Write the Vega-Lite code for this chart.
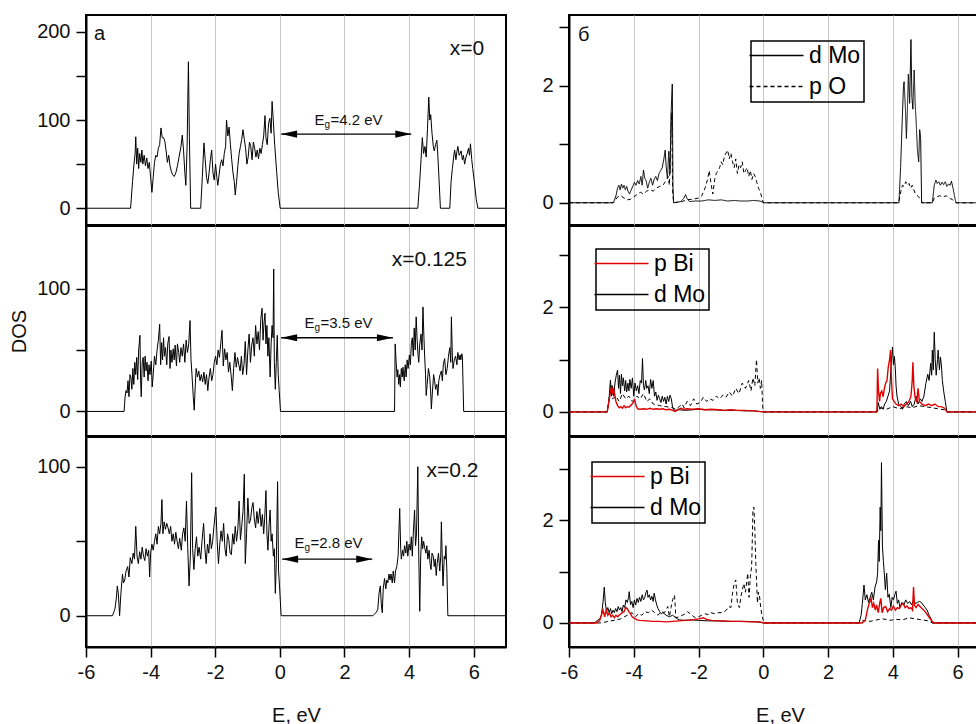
{
"$schema":"https://vega.github.io/schema/vega-lite/v6.json",
"padding":{"left":8,"top":14,"right":0,"bottom":0},
"background":"white",
"datasets":{
"L0":[{"E":-6,"v":0},{"E":-4.62,"v":0},{"E":-4.56,"v":30},{"E":-4.52,"v":48},{"E":-4.48,"v":62},{"E":-4.46,"v":81},{"E":-4.43,"v":50},{"E":-4.4,"v":68},{"E":-4.37,"v":45},{"E":-4.34,"v":62},{"E":-4.3,"v":52},{"E":-4.27,"v":66},{"E":-4.24,"v":50},{"E":-4.2,"v":60},{"E":-4.16,"v":48},{"E":-4.12,"v":57},{"E":-4.08,"v":45},{"E":-4.04,"v":52},{"E":-4.0,"v":35},{"E":-3.96,"v":18},{"E":-3.92,"v":35},{"E":-3.88,"v":52},{"E":-3.84,"v":60},{"E":-3.8,"v":58},{"E":-3.76,"v":68},{"E":-3.72,"v":72},{"E":-3.68,"v":91},{"E":-3.64,"v":80},{"E":-3.6,"v":80},{"E":-3.56,"v":76},{"E":-3.52,"v":65},{"E":-3.48,"v":52},{"E":-3.44,"v":60},{"E":-3.4,"v":48},{"E":-3.36,"v":42},{"E":-3.32,"v":38},{"E":-3.27,"v":36},{"E":-3.22,"v":40},{"E":-3.17,"v":48},{"E":-3.12,"v":58},{"E":-3.06,"v":70},{"E":-3.02,"v":83},{"E":-2.98,"v":65},{"E":-2.94,"v":40},{"E":-2.91,"v":26},{"E":-2.87,"v":70},{"E":-2.83,"v":166},{"E":-2.8,"v":80},{"E":-2.76,"v":0},{"E":-2.45,"v":0},{"E":-2.4,"v":35},{"E":-2.35,"v":74},{"E":-2.31,"v":55},{"E":-2.27,"v":35},{"E":-2.23,"v":28},{"E":-2.19,"v":40},{"E":-2.15,"v":55},{"E":-2.11,"v":66},{"E":-2.07,"v":40},{"E":-2.03,"v":32},{"E":-1.99,"v":50},{"E":-1.95,"v":35},{"E":-1.92,"v":26},{"E":-1.88,"v":38},{"E":-1.84,"v":50},{"E":-1.8,"v":55},{"E":-1.76,"v":48},{"E":-1.72,"v":62},{"E":-1.68,"v":70},{"E":-1.65,"v":100},{"E":-1.61,"v":82},{"E":-1.57,"v":92},{"E":-1.53,"v":72},{"E":-1.49,"v":55},{"E":-1.45,"v":40},{"E":-1.41,"v":30},{"E":-1.38,"v":15},{"E":-1.34,"v":30},{"E":-1.3,"v":48},{"E":-1.26,"v":62},{"E":-1.22,"v":70},{"E":-1.18,"v":78},{"E":-1.14,"v":89},{"E":-1.1,"v":78},{"E":-1.06,"v":68},{"E":-1.02,"v":50},{"E":-0.98,"v":58},{"E":-0.94,"v":75},{"E":-0.9,"v":70},{"E":-0.86,"v":55},{"E":-0.82,"v":75},{"E":-0.78,"v":68},{"E":-0.74,"v":58},{"E":-0.7,"v":66},{"E":-0.66,"v":56},{"E":-0.62,"v":68},{"E":-0.58,"v":62},{"E":-0.54,"v":72},{"E":-0.5,"v":82},{"E":-0.46,"v":105},{"E":-0.43,"v":80},{"E":-0.39,"v":72},{"E":-0.35,"v":96},{"E":-0.31,"v":102},{"E":-0.27,"v":85},{"E":-0.24,"v":121},{"E":-0.2,"v":98},{"E":-0.16,"v":72},{"E":-0.1,"v":42},{"E":-0.05,"v":18},{"E":0.01,"v":0},{"E":4.27,"v":0},{"E":4.32,"v":25},{"E":4.37,"v":55},{"E":4.41,"v":80},{"E":4.45,"v":62},{"E":4.49,"v":70},{"E":4.53,"v":58},{"E":4.57,"v":90},{"E":4.61,"v":126},{"E":4.64,"v":100},{"E":4.67,"v":106},{"E":4.71,"v":85},{"E":4.75,"v":70},{"E":4.78,"v":65},{"E":4.82,"v":72},{"E":4.86,"v":77},{"E":4.89,"v":60},{"E":4.92,"v":38},{"E":4.97,"v":0},{"E":5.26,"v":0},{"E":5.3,"v":30},{"E":5.34,"v":45},{"E":5.38,"v":58},{"E":5.41,"v":66},{"E":5.45,"v":55},{"E":5.48,"v":64},{"E":5.51,"v":70},{"E":5.55,"v":60},{"E":5.58,"v":62},{"E":5.61,"v":65},{"E":5.65,"v":55},{"E":5.68,"v":60},{"E":5.72,"v":50},{"E":5.76,"v":58},{"E":5.8,"v":62},{"E":5.84,"v":68},{"E":5.87,"v":60},{"E":5.9,"v":73},{"E":5.94,"v":55},{"E":5.97,"v":45},{"E":6.02,"v":30},{"E":6.08,"v":10},{"E":6.13,"v":0},{"E":7,"v":0}],
"L1":[{"E":-6,"v":0},{"E":-4.82,"v":0},{"E":-4.79,"v":12},{"E":-4.76,"v":17},{"E":-4.73,"v":15},{"E":-4.7,"v":25},{"E":-4.67,"v":12},{"E":-4.64,"v":30},{"E":-4.61,"v":28},{"E":-4.58,"v":18},{"E":-4.55,"v":35},{"E":-4.52,"v":22},{"E":-4.49,"v":40},{"E":-4.46,"v":30},{"E":-4.43,"v":44},{"E":-4.4,"v":26},{"E":-4.37,"v":50},{"E":-4.33,"v":62},{"E":-4.31,"v":25},{"E":-4.29,"v":12},{"E":-4.26,"v":40},{"E":-4.23,"v":44},{"E":-4.2,"v":28},{"E":-4.17,"v":45},{"E":-4.14,"v":33},{"E":-4.11,"v":40},{"E":-4.08,"v":25},{"E":-4.05,"v":38},{"E":-4.02,"v":30},{"E":-3.98,"v":41},{"E":-3.95,"v":20},{"E":-3.92,"v":30},{"E":-3.88,"v":45},{"E":-3.84,"v":38},{"E":-3.8,"v":50},{"E":-3.76,"v":58},{"E":-3.72,"v":71},{"E":-3.69,"v":38},{"E":-3.66,"v":56},{"E":-3.63,"v":42},{"E":-3.6,"v":60},{"E":-3.57,"v":45},{"E":-3.54,"v":52},{"E":-3.5,"v":38},{"E":-3.47,"v":55},{"E":-3.43,"v":61},{"E":-3.4,"v":35},{"E":-3.37,"v":50},{"E":-3.34,"v":40},{"E":-3.3,"v":51},{"E":-3.27,"v":42},{"E":-3.24,"v":54},{"E":-3.2,"v":37},{"E":-3.17,"v":55},{"E":-3.13,"v":48},{"E":-3.1,"v":40},{"E":-3.06,"v":52},{"E":-3.02,"v":45},{"E":-2.98,"v":55},{"E":-2.94,"v":40},{"E":-2.9,"v":58},{"E":-2.86,"v":48},{"E":-2.82,"v":55},{"E":-2.78,"v":74},{"E":-2.75,"v":42},{"E":-2.72,"v":30},{"E":-2.68,"v":12},{"E":-2.65,"v":1},{"E":-2.62,"v":20},{"E":-2.59,"v":35},{"E":-2.55,"v":28},{"E":-2.51,"v":33},{"E":-2.47,"v":25},{"E":-2.43,"v":30},{"E":-2.39,"v":24},{"E":-2.35,"v":32},{"E":-2.31,"v":22},{"E":-2.27,"v":30},{"E":-2.23,"v":17},{"E":-2.19,"v":28},{"E":-2.15,"v":35},{"E":-2.11,"v":25},{"E":-2.07,"v":30},{"E":-2.03,"v":40},{"E":-1.99,"v":45},{"E":-1.95,"v":38},{"E":-1.91,"v":50},{"E":-1.87,"v":44},{"E":-1.83,"v":55},{"E":-1.79,"v":66},{"E":-1.75,"v":37},{"E":-1.71,"v":51},{"E":-1.67,"v":42},{"E":-1.63,"v":48},{"E":-1.59,"v":32},{"E":-1.55,"v":40},{"E":-1.51,"v":30},{"E":-1.47,"v":17},{"E":-1.43,"v":35},{"E":-1.39,"v":48},{"E":-1.35,"v":36},{"E":-1.31,"v":44},{"E":-1.27,"v":38},{"E":-1.23,"v":33},{"E":-1.19,"v":45},{"E":-1.15,"v":30},{"E":-1.11,"v":38},{"E":-1.07,"v":57},{"E":-1.03,"v":30},{"E":-0.99,"v":50},{"E":-0.95,"v":63},{"E":-0.91,"v":40},{"E":-0.87,"v":54},{"E":-0.83,"v":60},{"E":-0.79,"v":45},{"E":-0.75,"v":70},{"E":-0.71,"v":55},{"E":-0.67,"v":65},{"E":-0.63,"v":50},{"E":-0.59,"v":75},{"E":-0.55,"v":84},{"E":-0.52,"v":58},{"E":-0.49,"v":72},{"E":-0.46,"v":80},{"E":-0.43,"v":55},{"E":-0.4,"v":70},{"E":-0.37,"v":45},{"E":-0.34,"v":60},{"E":-0.3,"v":28},{"E":-0.27,"v":55},{"E":-0.24,"v":70},{"E":-0.21,"v":60},{"E":-0.19,"v":116},{"E":-0.17,"v":40},{"E":-0.14,"v":18},{"E":-0.11,"v":40},{"E":-0.08,"v":62},{"E":-0.05,"v":30},{"E":-0.02,"v":17},{"E":0.02,"v":0},{"E":3.55,"v":0},{"E":3.57,"v":55},{"E":3.6,"v":40},{"E":3.63,"v":28},{"E":3.65,"v":34},{"E":3.68,"v":22},{"E":3.71,"v":30},{"E":3.73,"v":20},{"E":3.76,"v":35},{"E":3.79,"v":28},{"E":3.81,"v":36},{"E":3.85,"v":25},{"E":3.88,"v":38},{"E":3.91,"v":28},{"E":3.94,"v":42},{"E":3.97,"v":35},{"E":4.01,"v":46},{"E":4.04,"v":38},{"E":4.07,"v":55},{"E":4.1,"v":60},{"E":4.13,"v":45},{"E":4.16,"v":68},{"E":4.19,"v":50},{"E":4.22,"v":77},{"E":4.25,"v":58},{"E":4.28,"v":45},{"E":4.3,"v":40},{"E":4.33,"v":55},{"E":4.37,"v":63},{"E":4.4,"v":50},{"E":4.43,"v":85},{"E":4.46,"v":60},{"E":4.48,"v":46},{"E":4.51,"v":30},{"E":4.53,"v":13},{"E":4.56,"v":22},{"E":4.6,"v":35},{"E":4.64,"v":28},{"E":4.67,"v":15},{"E":4.69,"v":2},{"E":4.72,"v":15},{"E":4.76,"v":30},{"E":4.79,"v":25},{"E":4.82,"v":18},{"E":4.86,"v":22},{"E":4.89,"v":13},{"E":4.92,"v":25},{"E":4.96,"v":30},{"E":5.0,"v":33},{"E":5.03,"v":25},{"E":5.06,"v":38},{"E":5.1,"v":43},{"E":5.14,"v":30},{"E":5.18,"v":35},{"E":5.22,"v":45},{"E":5.26,"v":52},{"E":5.29,"v":40},{"E":5.31,"v":77},{"E":5.34,"v":45},{"E":5.36,"v":35},{"E":5.4,"v":42},{"E":5.44,"v":45},{"E":5.48,"v":38},{"E":5.51,"v":48},{"E":5.55,"v":42},{"E":5.58,"v":46},{"E":5.6,"v":42},{"E":5.63,"v":47},{"E":5.65,"v":45},{"E":5.69,"v":0},{"E":7,"v":0}],
"L2":[{"E":-6,"v":0},{"E":-5.18,"v":0},{"E":-5.13,"v":3},{"E":-5.1,"v":5},{"E":-5.06,"v":12},{"E":-5.03,"v":20},{"E":-5.0,"v":15},{"E":-4.96,"v":0},{"E":-4.92,"v":15},{"E":-4.87,"v":28},{"E":-4.84,"v":22},{"E":-4.8,"v":24},{"E":-4.76,"v":30},{"E":-4.71,"v":33},{"E":-4.67,"v":26},{"E":-4.63,"v":39},{"E":-4.58,"v":35},{"E":-4.54,"v":42},{"E":-4.5,"v":38},{"E":-4.46,"v":60},{"E":-4.42,"v":40},{"E":-4.38,"v":35},{"E":-4.34,"v":43},{"E":-4.3,"v":38},{"E":-4.26,"v":46},{"E":-4.22,"v":40},{"E":-4.18,"v":37},{"E":-4.14,"v":45},{"E":-4.1,"v":40},{"E":-4.06,"v":44},{"E":-4.03,"v":26},{"E":-4.0,"v":42},{"E":-3.96,"v":48},{"E":-3.92,"v":44},{"E":-3.88,"v":50},{"E":-3.84,"v":55},{"E":-3.8,"v":48},{"E":-3.76,"v":60},{"E":-3.72,"v":55},{"E":-3.68,"v":62},{"E":-3.65,"v":78},{"E":-3.62,"v":55},{"E":-3.58,"v":63},{"E":-3.54,"v":58},{"E":-3.5,"v":62},{"E":-3.46,"v":59},{"E":-3.42,"v":55},{"E":-3.38,"v":60},{"E":-3.34,"v":50},{"E":-3.3,"v":55},{"E":-3.26,"v":48},{"E":-3.22,"v":56},{"E":-3.18,"v":50},{"E":-3.14,"v":45},{"E":-3.1,"v":52},{"E":-3.05,"v":44},{"E":-3.01,"v":55},{"E":-2.97,"v":59},{"E":-2.93,"v":50},{"E":-2.89,"v":77},{"E":-2.85,"v":45},{"E":-2.81,"v":20},{"E":-2.77,"v":40},{"E":-2.73,"v":96},{"E":-2.7,"v":45},{"E":-2.66,"v":31},{"E":-2.62,"v":45},{"E":-2.58,"v":53},{"E":-2.54,"v":40},{"E":-2.5,"v":46},{"E":-2.45,"v":38},{"E":-2.41,"v":50},{"E":-2.36,"v":62},{"E":-2.32,"v":45},{"E":-2.28,"v":35},{"E":-2.24,"v":48},{"E":-2.2,"v":42},{"E":-2.16,"v":55},{"E":-2.12,"v":45},{"E":-2.08,"v":50},{"E":-2.04,"v":60},{"E":-1.98,"v":73},{"E":-1.94,"v":50},{"E":-1.9,"v":35},{"E":-1.86,"v":48},{"E":-1.82,"v":57},{"E":-1.78,"v":50},{"E":-1.74,"v":62},{"E":-1.7,"v":45},{"E":-1.66,"v":40},{"E":-1.62,"v":55},{"E":-1.58,"v":51},{"E":-1.54,"v":42},{"E":-1.5,"v":41},{"E":-1.46,"v":55},{"E":-1.42,"v":48},{"E":-1.38,"v":60},{"E":-1.34,"v":50},{"E":-1.3,"v":58},{"E":-1.26,"v":77},{"E":-1.22,"v":51},{"E":-1.18,"v":60},{"E":-1.14,"v":70},{"E":-1.1,"v":95},{"E":-1.07,"v":35},{"E":-1.03,"v":55},{"E":-0.99,"v":79},{"E":-0.95,"v":62},{"E":-0.91,"v":64},{"E":-0.87,"v":72},{"E":-0.83,"v":76},{"E":-0.79,"v":65},{"E":-0.75,"v":59},{"E":-0.71,"v":70},{"E":-0.67,"v":62},{"E":-0.62,"v":72},{"E":-0.58,"v":60},{"E":-0.54,"v":68},{"E":-0.5,"v":55},{"E":-0.47,"v":65},{"E":-0.43,"v":84},{"E":-0.4,"v":55},{"E":-0.37,"v":44},{"E":-0.33,"v":62},{"E":-0.3,"v":71},{"E":-0.27,"v":50},{"E":-0.24,"v":55},{"E":-0.2,"v":40},{"E":-0.17,"v":45},{"E":-0.14,"v":15},{"E":-0.11,"v":35},{"E":-0.07,"v":90},{"E":-0.04,"v":30},{"E":-0.01,"v":20},{"E":0.04,"v":0},{"E":2.88,"v":0},{"E":2.97,"v":2},{"E":3.03,"v":4},{"E":3.07,"v":15},{"E":3.11,"v":20},{"E":3.14,"v":8},{"E":3.17,"v":2},{"E":3.2,"v":18},{"E":3.24,"v":25},{"E":3.28,"v":18},{"E":3.31,"v":24},{"E":3.34,"v":22},{"E":3.38,"v":28},{"E":3.41,"v":24},{"E":3.44,"v":28},{"E":3.48,"v":22},{"E":3.51,"v":30},{"E":3.55,"v":22},{"E":3.58,"v":30},{"E":3.62,"v":33},{"E":3.66,"v":40},{"E":3.71,"v":72},{"E":3.74,"v":45},{"E":3.76,"v":38},{"E":3.8,"v":44},{"E":3.83,"v":40},{"E":3.86,"v":47},{"E":3.9,"v":42},{"E":3.93,"v":50},{"E":3.96,"v":40},{"E":4.0,"v":48},{"E":4.04,"v":44},{"E":4.07,"v":53},{"E":4.1,"v":40},{"E":4.13,"v":55},{"E":4.17,"v":71},{"E":4.2,"v":47},{"E":4.23,"v":55},{"E":4.27,"v":100},{"E":4.3,"v":40},{"E":4.33,"v":3},{"E":4.36,"v":40},{"E":4.39,"v":53},{"E":4.42,"v":45},{"E":4.45,"v":50},{"E":4.48,"v":46},{"E":4.52,"v":42},{"E":4.55,"v":47},{"E":4.58,"v":38},{"E":4.62,"v":44},{"E":4.65,"v":35},{"E":4.68,"v":31},{"E":4.71,"v":42},{"E":4.75,"v":40},{"E":4.78,"v":33},{"E":4.81,"v":38},{"E":4.84,"v":27},{"E":4.87,"v":35},{"E":4.91,"v":42},{"E":4.95,"v":30},{"E":4.98,"v":40},{"E":5.0,"v":63},{"E":5.03,"v":35},{"E":5.05,"v":20},{"E":5.09,"v":40},{"E":5.12,"v":38},{"E":5.14,"v":47},{"E":5.17,"v":30},{"E":5.2,"v":0},{"E":7,"v":0}],
"ann":[{"p":0,"E1":0.04,"E2":4.07,"y":84,"tE":1.07,"ty":100,"eg":"=4.2 eV","lab":"x=0","lE":5.26,"ly":180},{"p":1,"E1":0.04,"E2":3.5,"y":60,"tE":0.76,"ty":72,"eg":"=3.5 eV","lab":"x=0.125","lE":3.46,"ly":123},{"p":2,"E1":0.07,"E2":2.86,"y":38,"tE":0.45,"ty":49,"eg":"=2.8 eV","lab":"x=0.2","lE":4.54,"ly":97}],
"R0":[{"s":"d Mo","E":-6,"v":0},{"s":"d Mo","E":-4.66,"v":0},{"s":"d Mo","E":-4.6,"v":0.04},{"s":"d Mo","E":-4.55,"v":0.12},{"s":"d Mo","E":-4.5,"v":0.25},{"s":"d Mo","E":-4.46,"v":0.3},{"s":"d Mo","E":-4.42,"v":0.22},{"s":"d Mo","E":-4.38,"v":0.32},{"s":"d Mo","E":-4.34,"v":0.25},{"s":"d Mo","E":-4.3,"v":0.3},{"s":"d Mo","E":-4.26,"v":0.22},{"s":"d Mo","E":-4.22,"v":0.28},{"s":"d Mo","E":-4.18,"v":0.2},{"s":"d Mo","E":-4.13,"v":0.15},{"s":"d Mo","E":-4.08,"v":0.22},{"s":"d Mo","E":-4.03,"v":0.28},{"s":"d Mo","E":-3.98,"v":0.35},{"s":"d Mo","E":-3.93,"v":0.3},{"s":"d Mo","E":-3.88,"v":0.38},{"s":"d Mo","E":-3.83,"v":0.32},{"s":"d Mo","E":-3.78,"v":0.45},{"s":"d Mo","E":-3.74,"v":0.3},{"s":"d Mo","E":-3.7,"v":0.56},{"s":"d Mo","E":-3.66,"v":0.42},{"s":"d Mo","E":-3.62,"v":0.38},{"s":"d Mo","E":-3.57,"v":0.25},{"s":"d Mo","E":-3.52,"v":0.35},{"s":"d Mo","E":-3.47,"v":0.42},{"s":"d Mo","E":-3.42,"v":0.3},{"s":"d Mo","E":-3.37,"v":0.4},{"s":"d Mo","E":-3.32,"v":0.45},{"s":"d Mo","E":-3.27,"v":0.38},{"s":"d Mo","E":-3.22,"v":0.5},{"s":"d Mo","E":-3.17,"v":0.55},{"s":"d Mo","E":-3.12,"v":0.6},{"s":"d Mo","E":-3.07,"v":0.75},{"s":"d Mo","E":-3.03,"v":0.9},{"s":"d Mo","E":-3.0,"v":0.62},{"s":"d Mo","E":-2.96,"v":0.42},{"s":"d Mo","E":-2.92,"v":0.88},{"s":"d Mo","E":-2.88,"v":0.5},{"s":"d Mo","E":-2.85,"v":1.5},{"s":"d Mo","E":-2.81,"v":2.03},{"s":"d Mo","E":-2.79,"v":0.3},{"s":"d Mo","E":-2.77,"v":0},{"s":"d Mo","E":-2.55,"v":0.02},{"s":"d Mo","E":-2.45,"v":0.08},{"s":"d Mo","E":-2.4,"v":0.14},{"s":"d Mo","E":-2.35,"v":0.07},{"s":"d Mo","E":-2.28,"v":0.02},{"s":"d Mo","E":-2.1,"v":0.03},{"s":"d Mo","E":-1.9,"v":0.03},{"s":"d Mo","E":-1.7,"v":0.05},{"s":"d Mo","E":-1.5,"v":0.04},{"s":"d Mo","E":-1.3,"v":0.05},{"s":"d Mo","E":-1.1,"v":0.03},{"s":"d Mo","E":-0.9,"v":0.04},{"s":"d Mo","E":-0.7,"v":0.03},{"s":"d Mo","E":-0.5,"v":0.03},{"s":"d Mo","E":-0.3,"v":0.04},{"s":"d Mo","E":-0.1,"v":0.03},{"s":"d Mo","E":0.02,"v":0},{"s":"d Mo","E":4.19,"v":0},{"s":"d Mo","E":4.24,"v":0.6},{"s":"d Mo","E":4.29,"v":1.4},{"s":"d Mo","E":4.33,"v":2.0},{"s":"d Mo","E":4.35,"v":2.07},{"s":"d Mo","E":4.39,"v":1.6},{"s":"d Mo","E":4.42,"v":1.1},{"s":"d Mo","E":4.45,"v":1.59},{"s":"d Mo","E":4.48,"v":2.2},{"s":"d Mo","E":4.52,"v":1.7},{"s":"d Mo","E":4.56,"v":2.79},{"s":"d Mo","E":4.59,"v":1.8},{"s":"d Mo","E":4.62,"v":1.6},{"s":"d Mo","E":4.66,"v":2.27},{"s":"d Mo","E":4.69,"v":1.7},{"s":"d Mo","E":4.72,"v":1.4},{"s":"d Mo","E":4.76,"v":0.9},{"s":"d Mo","E":4.8,"v":0.7},{"s":"d Mo","E":4.83,"v":1.25},{"s":"d Mo","E":4.86,"v":1.1},{"s":"d Mo","E":4.89,"v":0},{"s":"d Mo","E":5.22,"v":0},{"s":"d Mo","E":5.28,"v":0.3},{"s":"d Mo","E":5.33,"v":0.39},{"s":"d Mo","E":5.37,"v":0.33},{"s":"d Mo","E":5.42,"v":0.36},{"s":"d Mo","E":5.47,"v":0.3},{"s":"d Mo","E":5.52,"v":0.35},{"s":"d Mo","E":5.57,"v":0.31},{"s":"d Mo","E":5.62,"v":0.36},{"s":"d Mo","E":5.67,"v":0.28},{"s":"d Mo","E":5.72,"v":0.32},{"s":"d Mo","E":5.77,"v":0.3},{"s":"d Mo","E":5.81,"v":0.37},{"s":"d Mo","E":5.86,"v":0.25},{"s":"d Mo","E":5.91,"v":0.1},{"s":"d Mo","E":5.95,"v":0},{"s":"d Mo","E":6.6,"v":0},
{"s":"p O","E":-6,"v":0},{"s":"p O","E":-4.62,"v":0},{"s":"p O","E":-4.5,"v":0.1},{"s":"p O","E":-4.4,"v":0.12},{"s":"p O","E":-4.3,"v":0.08},{"s":"p O","E":-4.2,"v":0.05},{"s":"p O","E":-4.1,"v":0.06},{"s":"p O","E":-4.0,"v":0.1},{"s":"p O","E":-3.9,"v":0.14},{"s":"p O","E":-3.8,"v":0.18},{"s":"p O","E":-3.7,"v":0.15},{"s":"p O","E":-3.6,"v":0.2},{"s":"p O","E":-3.5,"v":0.22},{"s":"p O","E":-3.4,"v":0.2},{"s":"p O","E":-3.3,"v":0.25},{"s":"p O","E":-3.2,"v":0.28},{"s":"p O","E":-3.1,"v":0.3},{"s":"p O","E":-3.0,"v":0.38},{"s":"p O","E":-2.94,"v":0.45},{"s":"p O","E":-2.9,"v":0.3},{"s":"p O","E":-2.86,"v":1.0},{"s":"p O","E":-2.83,"v":1.54},{"s":"p O","E":-2.8,"v":0.2},{"s":"p O","E":-2.77,"v":0},{"s":"p O","E":-2.5,"v":0.02},{"s":"p O","E":-2.4,"v":0.05},{"s":"p O","E":-2.2,"v":0.06},{"s":"p O","E":-2.0,"v":0.08},{"s":"p O","E":-1.9,"v":0.12},{"s":"p O","E":-1.8,"v":0.25},{"s":"p O","E":-1.72,"v":0.4},{"s":"p O","E":-1.67,"v":0.55},{"s":"p O","E":-1.62,"v":0.35},{"s":"p O","E":-1.56,"v":0.15},{"s":"p O","E":-1.5,"v":0.4},{"s":"p O","E":-1.45,"v":0.5},{"s":"p O","E":-1.4,"v":0.55},{"s":"p O","E":-1.35,"v":0.6},{"s":"p O","E":-1.3,"v":0.7},{"s":"p O","E":-1.25,"v":0.65},{"s":"p O","E":-1.2,"v":0.8},{"s":"p O","E":-1.15,"v":0.85},{"s":"p O","E":-1.1,"v":0.9},{"s":"p O","E":-1.05,"v":0.75},{"s":"p O","E":-1.0,"v":0.85},{"s":"p O","E":-0.95,"v":0.7},{"s":"p O","E":-0.9,"v":0.6},{"s":"p O","E":-0.85,"v":0.75},{"s":"p O","E":-0.8,"v":0.5},{"s":"p O","E":-0.75,"v":0.65},{"s":"p O","E":-0.7,"v":0.6},{"s":"p O","E":-0.65,"v":0.7},{"s":"p O","E":-0.6,"v":0.5},{"s":"p O","E":-0.55,"v":0.55},{"s":"p O","E":-0.5,"v":0.6},{"s":"p O","E":-0.45,"v":0.45},{"s":"p O","E":-0.4,"v":0.55},{"s":"p O","E":-0.35,"v":0.4},{"s":"p O","E":-0.3,"v":0.5},{"s":"p O","E":-0.25,"v":0.45},{"s":"p O","E":-0.2,"v":0.35},{"s":"p O","E":-0.15,"v":0.25},{"s":"p O","E":-0.1,"v":0.2},{"s":"p O","E":-0.05,"v":0.1},{"s":"p O","E":0.0,"v":0},{"s":"p O","E":4.18,"v":0},{"s":"p O","E":4.25,"v":0.2},{"s":"p O","E":4.3,"v":0.3},{"s":"p O","E":4.35,"v":0.28},{"s":"p O","E":4.4,"v":0.36},{"s":"p O","E":4.45,"v":0.3},{"s":"p O","E":4.5,"v":0.33},{"s":"p O","E":4.55,"v":0.25},{"s":"p O","E":4.6,"v":0.3},{"s":"p O","E":4.65,"v":0.22},{"s":"p O","E":4.7,"v":0.15},{"s":"p O","E":4.8,"v":0.1},{"s":"p O","E":4.88,"v":0.05},{"s":"p O","E":4.9,"v":0},{"s":"p O","E":5.22,"v":0},{"s":"p O","E":5.28,"v":0.08},{"s":"p O","E":5.35,"v":0.1},{"s":"p O","E":5.45,"v":0.12},{"s":"p O","E":5.55,"v":0.1},{"s":"p O","E":5.65,"v":0.12},{"s":"p O","E":5.75,"v":0.08},{"s":"p O","E":5.85,"v":0.05},{"s":"p O","E":5.95,"v":0},{"s":"p O","E":6.6,"v":0}],
"R1":[{"s":"d Mo","E":-6,"v":0},{"s":"d Mo","E":-4.82,"v":0},{"s":"d Mo","E":-4.77,"v":0.2},{"s":"d Mo","E":-4.72,"v":0.61},{"s":"d Mo","E":-4.69,"v":0.3},{"s":"d Mo","E":-4.66,"v":0.5},{"s":"d Mo","E":-4.62,"v":0.3},{"s":"d Mo","E":-4.58,"v":0.55},{"s":"d Mo","E":-4.54,"v":0.7},{"s":"d Mo","E":-4.5,"v":0.8},{"s":"d Mo","E":-4.47,"v":0.45},{"s":"d Mo","E":-4.44,"v":0.7},{"s":"d Mo","E":-4.41,"v":0.35},{"s":"d Mo","E":-4.38,"v":0.72},{"s":"d Mo","E":-4.35,"v":0.5},{"s":"d Mo","E":-4.32,"v":0.65},{"s":"d Mo","E":-4.28,"v":0.4},{"s":"d Mo","E":-4.25,"v":0.6},{"s":"d Mo","E":-4.22,"v":0.38},{"s":"d Mo","E":-4.18,"v":0.55},{"s":"d Mo","E":-4.15,"v":0.4},{"s":"d Mo","E":-4.12,"v":0.62},{"s":"d Mo","E":-4.08,"v":0.45},{"s":"d Mo","E":-4.04,"v":0.65},{"s":"d Mo","E":-4.0,"v":0.3},{"s":"d Mo","E":-3.96,"v":0.55},{"s":"d Mo","E":-3.92,"v":0.4},{"s":"d Mo","E":-3.88,"v":0.5},{"s":"d Mo","E":-3.84,"v":0.35},{"s":"d Mo","E":-3.8,"v":0.6},{"s":"d Mo","E":-3.76,"v":0.55},{"s":"d Mo","E":-3.73,"v":1.02},{"s":"d Mo","E":-3.7,"v":0.5},{"s":"d Mo","E":-3.67,"v":0.42},{"s":"d Mo","E":-3.63,"v":0.6},{"s":"d Mo","E":-3.6,"v":0.45},{"s":"d Mo","E":-3.56,"v":0.5},{"s":"d Mo","E":-3.52,"v":0.35},{"s":"d Mo","E":-3.48,"v":0.62},{"s":"d Mo","E":-3.44,"v":0.45},{"s":"d Mo","E":-3.4,"v":0.6},{"s":"d Mo","E":-3.36,"v":0.3},{"s":"d Mo","E":-3.32,"v":0.38},{"s":"d Mo","E":-3.28,"v":0.22},{"s":"d Mo","E":-3.24,"v":0.32},{"s":"d Mo","E":-3.2,"v":0.25},{"s":"d Mo","E":-3.16,"v":0.18},{"s":"d Mo","E":-3.12,"v":0.3},{"s":"d Mo","E":-3.08,"v":0.2},{"s":"d Mo","E":-3.04,"v":0.28},{"s":"d Mo","E":-3.0,"v":0.15},{"s":"d Mo","E":-2.96,"v":0.3},{"s":"d Mo","E":-2.92,"v":0.2},{"s":"d Mo","E":-2.88,"v":0.32},{"s":"d Mo","E":-2.84,"v":0.25},{"s":"d Mo","E":-2.8,"v":0.08},{"s":"d Mo","E":-2.75,"v":0.03},{"s":"d Mo","E":-2.6,"v":0.04},{"s":"d Mo","E":-2.4,"v":0.03},{"s":"d Mo","E":-2.2,"v":0.04},{"s":"d Mo","E":-2.0,"v":0.05},{"s":"d Mo","E":-1.8,"v":0.04},{"s":"d Mo","E":-1.5,"v":0.04},{"s":"d Mo","E":-1.2,"v":0.03},{"s":"d Mo","E":-0.9,"v":0.03},{"s":"d Mo","E":-0.6,"v":0.02},{"s":"d Mo","E":-0.3,"v":0.02},{"s":"d Mo","E":0.0,"v":0},{"s":"d Mo","E":3.51,"v":0},{"s":"d Mo","E":3.55,"v":0.18},{"s":"d Mo","E":3.6,"v":0.05},{"s":"d Mo","E":3.65,"v":0.1},{"s":"d Mo","E":3.7,"v":0.05},{"s":"d Mo","E":3.75,"v":0.15},{"s":"d Mo","E":3.8,"v":0.2},{"s":"d Mo","E":3.85,"v":0.3},{"s":"d Mo","E":3.9,"v":0.4},{"s":"d Mo","E":3.95,"v":0.9},{"s":"d Mo","E":3.99,"v":1.24},{"s":"d Mo","E":4.02,"v":0.9},{"s":"d Mo","E":4.05,"v":1.06},{"s":"d Mo","E":4.08,"v":0.8},{"s":"d Mo","E":4.1,"v":0.5},{"s":"d Mo","E":4.13,"v":0.3},{"s":"d Mo","E":4.18,"v":0.15},{"s":"d Mo","E":4.25,"v":0.1},{"s":"d Mo","E":4.3,"v":0.05},{"s":"d Mo","E":4.35,"v":0.15},{"s":"d Mo","E":4.42,"v":0.2},{"s":"d Mo","E":4.48,"v":0.12},{"s":"d Mo","E":4.55,"v":0.2},{"s":"d Mo","E":4.6,"v":0.1},{"s":"d Mo","E":4.66,"v":0.15},{"s":"d Mo","E":4.72,"v":0.3},{"s":"d Mo","E":4.78,"v":0.15},{"s":"d Mo","E":4.85,"v":0.25},{"s":"d Mo","E":4.9,"v":0.2},{"s":"d Mo","E":4.96,"v":0.3},{"s":"d Mo","E":5.02,"v":0.54},{"s":"d Mo","E":5.08,"v":0.72},{"s":"d Mo","E":5.12,"v":0.6},{"s":"d Mo","E":5.17,"v":0.93},{"s":"d Mo","E":5.2,"v":0.7},{"s":"d Mo","E":5.22,"v":1.18},{"s":"d Mo","E":5.25,"v":0.8},{"s":"d Mo","E":5.28,"v":1.52},{"s":"d Mo","E":5.31,"v":1.0},{"s":"d Mo","E":5.34,"v":0.7},{"s":"d Mo","E":5.38,"v":1.0},{"s":"d Mo","E":5.4,"v":1.18},{"s":"d Mo","E":5.44,"v":0.8},{"s":"d Mo","E":5.47,"v":1.05},{"s":"d Mo","E":5.5,"v":0.9},{"s":"d Mo","E":5.53,"v":0.6},{"s":"d Mo","E":5.57,"v":0.4},{"s":"d Mo","E":5.62,"v":0.2},{"s":"d Mo","E":5.67,"v":0},{"s":"d Mo","E":6.6,"v":0},
{"s":"p Bi","E":-6,"v":0},{"s":"p Bi","E":-4.82,"v":0},{"s":"p Bi","E":-4.78,"v":0.15},{"s":"p Bi","E":-4.74,"v":0.3},{"s":"p Bi","E":-4.71,"v":0.42},{"s":"p Bi","E":-4.68,"v":0.48},{"s":"p Bi","E":-4.65,"v":0.35},{"s":"p Bi","E":-4.62,"v":0.45},{"s":"p Bi","E":-4.58,"v":0.3},{"s":"p Bi","E":-4.55,"v":0.2},{"s":"p Bi","E":-4.5,"v":0.12},{"s":"p Bi","E":-4.45,"v":0.08},{"s":"p Bi","E":-4.4,"v":0.1},{"s":"p Bi","E":-4.35,"v":0.07},{"s":"p Bi","E":-4.3,"v":0.12},{"s":"p Bi","E":-4.25,"v":0.08},{"s":"p Bi","E":-4.2,"v":0.1},{"s":"p Bi","E":-4.15,"v":0.09},{"s":"p Bi","E":-4.1,"v":0.12},{"s":"p Bi","E":-4.05,"v":0.15},{"s":"p Bi","E":-4.0,"v":0.2},{"s":"p Bi","E":-3.97,"v":0.23},{"s":"p Bi","E":-3.93,"v":0.12},{"s":"p Bi","E":-3.88,"v":0.06},{"s":"p Bi","E":-3.8,"v":0.05},{"s":"p Bi","E":-3.7,"v":0.06},{"s":"p Bi","E":-3.6,"v":0.05},{"s":"p Bi","E":-3.5,"v":0.07},{"s":"p Bi","E":-3.4,"v":0.05},{"s":"p Bi","E":-3.3,"v":0.06},{"s":"p Bi","E":-3.2,"v":0.05},{"s":"p Bi","E":-3.1,"v":0.06},{"s":"p Bi","E":-3.0,"v":0.04},{"s":"p Bi","E":-2.9,"v":0.05},{"s":"p Bi","E":-2.8,"v":0.03},{"s":"p Bi","E":-2.72,"v":0.01},{"s":"p Bi","E":-2.65,"v":0.04},{"s":"p Bi","E":-2.55,"v":0.07},{"s":"p Bi","E":-2.45,"v":0.05},{"s":"p Bi","E":-2.35,"v":0.06},{"s":"p Bi","E":-2.2,"v":0.05},{"s":"p Bi","E":-2.0,"v":0.06},{"s":"p Bi","E":-1.8,"v":0.04},{"s":"p Bi","E":-1.6,"v":0.05},{"s":"p Bi","E":-1.4,"v":0.04},{"s":"p Bi","E":-1.2,"v":0.03},{"s":"p Bi","E":-1.0,"v":0.04},{"s":"p Bi","E":-0.8,"v":0.03},{"s":"p Bi","E":-0.6,"v":0.03},{"s":"p Bi","E":-0.3,"v":0.02},{"s":"p Bi","E":0.0,"v":0},{"s":"p Bi","E":3.51,"v":0},{"s":"p Bi","E":3.53,"v":0.83},{"s":"p Bi","E":3.56,"v":0.4},{"s":"p Bi","E":3.59,"v":0.2},{"s":"p Bi","E":3.62,"v":0.36},{"s":"p Bi","E":3.66,"v":0.4},{"s":"p Bi","E":3.7,"v":0.29},{"s":"p Bi","E":3.74,"v":0.45},{"s":"p Bi","E":3.78,"v":0.55},{"s":"p Bi","E":3.82,"v":0.6},{"s":"p Bi","E":3.86,"v":0.86},{"s":"p Bi","E":3.9,"v":1.0},{"s":"p Bi","E":3.93,"v":1.18},{"s":"p Bi","E":3.96,"v":0.6},{"s":"p Bi","E":3.99,"v":0.25},{"s":"p Bi","E":4.04,"v":0.2},{"s":"p Bi","E":4.1,"v":0.15},{"s":"p Bi","E":4.18,"v":0.12},{"s":"p Bi","E":4.26,"v":0.15},{"s":"p Bi","E":4.34,"v":0.1},{"s":"p Bi","E":4.42,"v":0.15},{"s":"p Bi","E":4.5,"v":0.2},{"s":"p Bi","E":4.56,"v":0.3},{"s":"p Bi","E":4.6,"v":0.6},{"s":"p Bi","E":4.62,"v":0.95},{"s":"p Bi","E":4.65,"v":0.49},{"s":"p Bi","E":4.69,"v":0.27},{"s":"p Bi","E":4.74,"v":0.2},{"s":"p Bi","E":4.78,"v":0.45},{"s":"p Bi","E":4.82,"v":0.2},{"s":"p Bi","E":4.9,"v":0.15},{"s":"p Bi","E":5.0,"v":0.12},{"s":"p Bi","E":5.1,"v":0.15},{"s":"p Bi","E":5.2,"v":0.12},{"s":"p Bi","E":5.3,"v":0.15},{"s":"p Bi","E":5.4,"v":0.1},{"s":"p Bi","E":5.5,"v":0.1},{"s":"p Bi","E":5.6,"v":0.07},{"s":"p Bi","E":5.67,"v":0},{"s":"p Bi","E":6.6,"v":0},
{"s":"p O","E":-6,"v":0},{"s":"p O","E":-4.82,"v":0},{"s":"p O","E":-4.75,"v":0.3},{"s":"p O","E":-4.7,"v":0.5},{"s":"p O","E":-4.65,"v":0.25},{"s":"p O","E":-4.55,"v":0.3},{"s":"p O","E":-4.45,"v":0.2},{"s":"p O","E":-4.35,"v":0.35},{"s":"p O","E":-4.25,"v":0.25},{"s":"p O","E":-4.15,"v":0.3},{"s":"p O","E":-4.05,"v":0.2},{"s":"p O","E":-3.9,"v":0.3},{"s":"p O","E":-3.8,"v":0.25},{"s":"p O","E":-3.7,"v":0.35},{"s":"p O","E":-3.6,"v":0.2},{"s":"p O","E":-3.5,"v":0.25},{"s":"p O","E":-3.4,"v":0.15},{"s":"p O","E":-3.2,"v":0.12},{"s":"p O","E":-3.0,"v":0.1},{"s":"p O","E":-2.8,"v":0.08},{"s":"p O","E":-2.7,"v":0.05},{"s":"p O","E":-2.6,"v":0.1},{"s":"p O","E":-2.5,"v":0.15},{"s":"p O","E":-2.45,"v":0.08},{"s":"p O","E":-2.35,"v":0.2},{"s":"p O","E":-2.25,"v":0.12},{"s":"p O","E":-2.15,"v":0.25},{"s":"p O","E":-2.05,"v":0.15},{"s":"p O","E":-1.95,"v":0.18},{"s":"p O","E":-1.85,"v":0.28},{"s":"p O","E":-1.75,"v":0.2},{"s":"p O","E":-1.65,"v":0.25},{"s":"p O","E":-1.55,"v":0.22},{"s":"p O","E":-1.45,"v":0.3},{"s":"p O","E":-1.35,"v":0.25},{"s":"p O","E":-1.25,"v":0.32},{"s":"p O","E":-1.15,"v":0.28},{"s":"p O","E":-1.05,"v":0.38},{"s":"p O","E":-0.95,"v":0.3},{"s":"p O","E":-0.85,"v":0.45},{"s":"p O","E":-0.75,"v":0.35},{"s":"p O","E":-0.65,"v":0.55},{"s":"p O","E":-0.55,"v":0.45},{"s":"p O","E":-0.45,"v":0.6},{"s":"p O","E":-0.38,"v":0.4},{"s":"p O","E":-0.32,"v":0.65},{"s":"p O","E":-0.26,"v":0.5},{"s":"p O","E":-0.21,"v":1.0},{"s":"p O","E":-0.17,"v":0.55},{"s":"p O","E":-0.13,"v":0.65},{"s":"p O","E":-0.09,"v":0.45},{"s":"p O","E":-0.05,"v":0.6},{"s":"p O","E":-0.02,"v":0.1},{"s":"p O","E":0.0,"v":0},{"s":"p O","E":3.51,"v":0},{"s":"p O","E":3.6,"v":0.08},{"s":"p O","E":3.8,"v":0.05},{"s":"p O","E":4.0,"v":0.1},{"s":"p O","E":4.2,"v":0.06},{"s":"p O","E":4.4,"v":0.1},{"s":"p O","E":4.6,"v":0.08},{"s":"p O","E":4.8,"v":0.12},{"s":"p O","E":5.0,"v":0.1},{"s":"p O","E":5.2,"v":0.08},{"s":"p O","E":5.4,"v":0.06},{"s":"p O","E":5.6,"v":0.04},{"s":"p O","E":5.67,"v":0},{"s":"p O","E":6.6,"v":0}],
"R2":[{"s":"d Mo","E":-6,"v":0},{"s":"d Mo","E":-5.22,"v":0},{"s":"d Mo","E":-5.12,"v":0.05},{"s":"d Mo","E":-5.05,"v":0.08},{"s":"d Mo","E":-5.0,"v":0.15},{"s":"d Mo","E":-4.95,"v":0.4},{"s":"d Mo","E":-4.91,"v":0.7},{"s":"d Mo","E":-4.88,"v":0.4},{"s":"d Mo","E":-4.84,"v":0.22},{"s":"d Mo","E":-4.8,"v":0.3},{"s":"d Mo","E":-4.76,"v":0.2},{"s":"d Mo","E":-4.72,"v":0.28},{"s":"d Mo","E":-4.68,"v":0.18},{"s":"d Mo","E":-4.64,"v":0.25},{"s":"d Mo","E":-4.6,"v":0.2},{"s":"d Mo","E":-4.56,"v":0.28},{"s":"d Mo","E":-4.52,"v":0.22},{"s":"d Mo","E":-4.48,"v":0.32},{"s":"d Mo","E":-4.44,"v":0.25},{"s":"d Mo","E":-4.4,"v":0.3},{"s":"d Mo","E":-4.36,"v":0.22},{"s":"d Mo","E":-4.32,"v":0.35},{"s":"d Mo","E":-4.28,"v":0.3},{"s":"d Mo","E":-4.24,"v":0.45},{"s":"d Mo","E":-4.2,"v":0.4},{"s":"d Mo","E":-4.16,"v":0.5},{"s":"d Mo","E":-4.14,"v":0.61},{"s":"d Mo","E":-4.1,"v":0.35},{"s":"d Mo","E":-4.06,"v":0.42},{"s":"d Mo","E":-4.02,"v":0.3},{"s":"d Mo","E":-3.98,"v":0.45},{"s":"d Mo","E":-3.94,"v":0.35},{"s":"d Mo","E":-3.9,"v":0.48},{"s":"d Mo","E":-3.86,"v":0.4},{"s":"d Mo","E":-3.82,"v":0.5},{"s":"d Mo","E":-3.78,"v":0.42},{"s":"d Mo","E":-3.74,"v":0.55},{"s":"d Mo","E":-3.7,"v":0.45},{"s":"d Mo","E":-3.66,"v":0.5},{"s":"d Mo","E":-3.62,"v":0.6},{"s":"d Mo","E":-3.59,"v":0.64},{"s":"d Mo","E":-3.56,"v":0.5},{"s":"d Mo","E":-3.52,"v":0.55},{"s":"d Mo","E":-3.48,"v":0.45},{"s":"d Mo","E":-3.44,"v":0.52},{"s":"d Mo","E":-3.4,"v":0.42},{"s":"d Mo","E":-3.37,"v":0.58},{"s":"d Mo","E":-3.33,"v":0.45},{"s":"d Mo","E":-3.29,"v":0.35},{"s":"d Mo","E":-3.25,"v":0.28},{"s":"d Mo","E":-3.2,"v":0.22},{"s":"d Mo","E":-3.15,"v":0.18},{"s":"d Mo","E":-3.1,"v":0.2},{"s":"d Mo","E":-3.0,"v":0.15},{"s":"d Mo","E":-2.9,"v":0.12},{"s":"d Mo","E":-2.8,"v":0.15},{"s":"d Mo","E":-2.7,"v":0.1},{"s":"d Mo","E":-2.6,"v":0.06},{"s":"d Mo","E":-2.4,"v":0.05},{"s":"d Mo","E":-2.2,"v":0.06},{"s":"d Mo","E":-2.0,"v":0.05},{"s":"d Mo","E":-1.7,"v":0.04},{"s":"d Mo","E":-1.4,"v":0.04},{"s":"d Mo","E":-1.1,"v":0.03},{"s":"d Mo","E":-0.8,"v":0.03},{"s":"d Mo","E":-0.5,"v":0.03},{"s":"d Mo","E":-0.2,"v":0.02},{"s":"d Mo","E":0.02,"v":0},{"s":"d Mo","E":2.96,"v":0},{"s":"d Mo","E":3.02,"v":0.15},{"s":"d Mo","E":3.06,"v":0.38},{"s":"d Mo","E":3.11,"v":0.74},{"s":"d Mo","E":3.15,"v":0.45},{"s":"d Mo","E":3.2,"v":0.55},{"s":"d Mo","E":3.25,"v":0.4},{"s":"d Mo","E":3.3,"v":0.5},{"s":"d Mo","E":3.35,"v":0.6},{"s":"d Mo","E":3.4,"v":0.45},{"s":"d Mo","E":3.45,"v":0.7},{"s":"d Mo","E":3.5,"v":0.8},{"s":"d Mo","E":3.53,"v":0.96},{"s":"d Mo","E":3.56,"v":1.61},{"s":"d Mo","E":3.58,"v":1.2},{"s":"d Mo","E":3.61,"v":2.26},{"s":"d Mo","E":3.63,"v":1.8},{"s":"d Mo","E":3.65,"v":3.13},{"s":"d Mo","E":3.68,"v":1.5},{"s":"d Mo","E":3.71,"v":1.2},{"s":"d Mo","E":3.73,"v":1.03},{"s":"d Mo","E":3.77,"v":0.65},{"s":"d Mo","E":3.81,"v":0.97},{"s":"d Mo","E":3.85,"v":0.5},{"s":"d Mo","E":3.89,"v":0.56},{"s":"d Mo","E":3.94,"v":0.3},{"s":"d Mo","E":3.98,"v":0.5},{"s":"d Mo","E":4.02,"v":0.45},{"s":"d Mo","E":4.06,"v":0.55},{"s":"d Mo","E":4.1,"v":0.62},{"s":"d Mo","E":4.14,"v":0.38},{"s":"d Mo","E":4.18,"v":0.45},{"s":"d Mo","E":4.22,"v":0.3},{"s":"d Mo","E":4.28,"v":0.4},{"s":"d Mo","E":4.34,"v":0.35},{"s":"d Mo","E":4.4,"v":0.45},{"s":"d Mo","E":4.46,"v":0.38},{"s":"d Mo","E":4.52,"v":0.42},{"s":"d Mo","E":4.58,"v":0.35},{"s":"d Mo","E":4.64,"v":0.45},{"s":"d Mo","E":4.7,"v":0.38},{"s":"d Mo","E":4.76,"v":0.4},{"s":"d Mo","E":4.82,"v":0.42},{"s":"d Mo","E":4.88,"v":0.4},{"s":"d Mo","E":4.94,"v":0.35},{"s":"d Mo","E":5.0,"v":0.3},{"s":"d Mo","E":5.06,"v":0.25},{"s":"d Mo","E":5.12,"v":0.15},{"s":"d Mo","E":5.18,"v":0.08},{"s":"d Mo","E":5.22,"v":0},{"s":"d Mo","E":6.6,"v":0},
{"s":"p Bi","E":-6,"v":0},{"s":"p Bi","E":-5.15,"v":0},{"s":"p Bi","E":-5.05,"v":0.05},{"s":"p Bi","E":-5.0,"v":0.15},{"s":"p Bi","E":-4.95,"v":0.25},{"s":"p Bi","E":-4.9,"v":0.12},{"s":"p Bi","E":-4.85,"v":0.25},{"s":"p Bi","E":-4.8,"v":0.15},{"s":"p Bi","E":-4.75,"v":0.2},{"s":"p Bi","E":-4.7,"v":0.12},{"s":"p Bi","E":-4.65,"v":0.15},{"s":"p Bi","E":-4.6,"v":0.1},{"s":"p Bi","E":-4.55,"v":0.15},{"s":"p Bi","E":-4.5,"v":0.12},{"s":"p Bi","E":-4.45,"v":0.15},{"s":"p Bi","E":-4.4,"v":0.18},{"s":"p Bi","E":-4.35,"v":0.2},{"s":"p Bi","E":-4.3,"v":0.22},{"s":"p Bi","E":-4.25,"v":0.3},{"s":"p Bi","E":-4.2,"v":0.28},{"s":"p Bi","E":-4.15,"v":0.22},{"s":"p Bi","E":-4.1,"v":0.18},{"s":"p Bi","E":-4.05,"v":0.12},{"s":"p Bi","E":-4.0,"v":0.1},{"s":"p Bi","E":-3.9,"v":0.06},{"s":"p Bi","E":-3.8,"v":0.05},{"s":"p Bi","E":-3.6,"v":0.04},{"s":"p Bi","E":-3.4,"v":0.03},{"s":"p Bi","E":-3.2,"v":0.03},{"s":"p Bi","E":-3.0,"v":0.02},{"s":"p Bi","E":-2.8,"v":0.03},{"s":"p Bi","E":-2.6,"v":0.04},{"s":"p Bi","E":-2.4,"v":0.05},{"s":"p Bi","E":-2.2,"v":0.06},{"s":"p Bi","E":-2.0,"v":0.08},{"s":"p Bi","E":-1.85,"v":0.1},{"s":"p Bi","E":-1.75,"v":0.07},{"s":"p Bi","E":-1.6,"v":0.05},{"s":"p Bi","E":-1.4,"v":0.04},{"s":"p Bi","E":-1.2,"v":0.04},{"s":"p Bi","E":-1.0,"v":0.03},{"s":"p Bi","E":-0.7,"v":0.03},{"s":"p Bi","E":-0.4,"v":0.02},{"s":"p Bi","E":-0.1,"v":0.02},{"s":"p Bi","E":0.02,"v":0},{"s":"p Bi","E":3.05,"v":0},{"s":"p Bi","E":3.15,"v":0.05},{"s":"p Bi","E":3.22,"v":0.27},{"s":"p Bi","E":3.28,"v":0.4},{"s":"p Bi","E":3.33,"v":0.48},{"s":"p Bi","E":3.37,"v":0.3},{"s":"p Bi","E":3.41,"v":0.38},{"s":"p Bi","E":3.46,"v":0.25},{"s":"p Bi","E":3.5,"v":0.35},{"s":"p Bi","E":3.55,"v":0.2},{"s":"p Bi","E":3.6,"v":0.4},{"s":"p Bi","E":3.63,"v":0.48},{"s":"p Bi","E":3.67,"v":0.2},{"s":"p Bi","E":3.72,"v":0.3},{"s":"p Bi","E":3.78,"v":0.32},{"s":"p Bi","E":3.84,"v":0.22},{"s":"p Bi","E":3.9,"v":0.28},{"s":"p Bi","E":3.96,"v":0.25},{"s":"p Bi","E":4.02,"v":0.33},{"s":"p Bi","E":4.08,"v":0.25},{"s":"p Bi","E":4.14,"v":0.3},{"s":"p Bi","E":4.2,"v":0.28},{"s":"p Bi","E":4.26,"v":0.35},{"s":"p Bi","E":4.32,"v":0.38},{"s":"p Bi","E":4.38,"v":0.3},{"s":"p Bi","E":4.44,"v":0.33},{"s":"p Bi","E":4.5,"v":0.28},{"s":"p Bi","E":4.56,"v":0.3},{"s":"p Bi","E":4.61,"v":0.25},{"s":"p Bi","E":4.64,"v":0.7},{"s":"p Bi","E":4.67,"v":0.34},{"s":"p Bi","E":4.72,"v":0.3},{"s":"p Bi","E":4.78,"v":0.36},{"s":"p Bi","E":4.84,"v":0.32},{"s":"p Bi","E":4.9,"v":0.28},{"s":"p Bi","E":4.96,"v":0.25},{"s":"p Bi","E":5.02,"v":0.2},{"s":"p Bi","E":5.1,"v":0.13},{"s":"p Bi","E":5.18,"v":0.06},{"s":"p Bi","E":5.26,"v":0},{"s":"p Bi","E":6.6,"v":0},
{"s":"p O","E":-6,"v":0},{"s":"p O","E":-5.0,"v":0},{"s":"p O","E":-4.8,"v":0.03},{"s":"p O","E":-4.6,"v":0.05},{"s":"p O","E":-4.4,"v":0.08},{"s":"p O","E":-4.2,"v":0.15},{"s":"p O","E":-4.05,"v":0.2},{"s":"p O","E":-3.95,"v":0.12},{"s":"p O","E":-3.85,"v":0.18},{"s":"p O","E":-3.75,"v":0.15},{"s":"p O","E":-3.65,"v":0.22},{"s":"p O","E":-3.55,"v":0.2},{"s":"p O","E":-3.45,"v":0.25},{"s":"p O","E":-3.35,"v":0.2},{"s":"p O","E":-3.25,"v":0.15},{"s":"p O","E":-3.15,"v":0.22},{"s":"p O","E":-3.05,"v":0.2},{"s":"p O","E":-2.95,"v":0.32},{"s":"p O","E":-2.9,"v":0.12},{"s":"p O","E":-2.85,"v":0.3},{"s":"p O","E":-2.8,"v":0.45},{"s":"p O","E":-2.74,"v":0.54},{"s":"p O","E":-2.7,"v":0.1},{"s":"p O","E":-2.6,"v":0.12},{"s":"p O","E":-2.5,"v":0.15},{"s":"p O","E":-2.4,"v":0.18},{"s":"p O","E":-2.34,"v":0.22},{"s":"p O","E":-2.2,"v":0.15},{"s":"p O","E":-2.1,"v":0.1},{"s":"p O","E":-2.0,"v":0.12},{"s":"p O","E":-1.9,"v":0.15},{"s":"p O","E":-1.8,"v":0.18},{"s":"p O","E":-1.7,"v":0.16},{"s":"p O","E":-1.62,"v":0.2},{"s":"p O","E":-1.5,"v":0.18},{"s":"p O","E":-1.4,"v":0.2},{"s":"p O","E":-1.3,"v":0.2},{"s":"p O","E":-1.2,"v":0.22},{"s":"p O","E":-1.14,"v":0.25},{"s":"p O","E":-1.06,"v":0.32},{"s":"p O","E":-1.0,"v":0.3},{"s":"p O","E":-0.95,"v":0.58},{"s":"p O","E":-0.9,"v":0.77},{"s":"p O","E":-0.85,"v":0.84},{"s":"p O","E":-0.8,"v":0.4},{"s":"p O","E":-0.74,"v":0.3},{"s":"p O","E":-0.68,"v":0.55},{"s":"p O","E":-0.6,"v":0.77},{"s":"p O","E":-0.55,"v":0.6},{"s":"p O","E":-0.48,"v":0.97},{"s":"p O","E":-0.44,"v":0.5},{"s":"p O","E":-0.4,"v":0.9},{"s":"p O","E":-0.36,"v":1.1},{"s":"p O","E":-0.34,"v":1.6},{"s":"p O","E":-0.32,"v":2.19},{"s":"p O","E":-0.29,"v":2.26},{"s":"p O","E":-0.26,"v":1.8},{"s":"p O","E":-0.23,"v":1.16},{"s":"p O","E":-0.2,"v":0.7},{"s":"p O","E":-0.18,"v":0.39},{"s":"p O","E":-0.15,"v":0.6},{"s":"p O","E":-0.12,"v":0.55},{"s":"p O","E":-0.08,"v":0.3},{"s":"p O","E":-0.04,"v":0.15},{"s":"p O","E":0.02,"v":0},{"s":"p O","E":2.96,"v":0},{"s":"p O","E":3.1,"v":0.05},{"s":"p O","E":3.3,"v":0.03},{"s":"p O","E":3.5,"v":0.06},{"s":"p O","E":3.7,"v":0.08},{"s":"p O","E":3.9,"v":0.05},{"s":"p O","E":4.1,"v":0.07},{"s":"p O","E":4.3,"v":0.06},{"s":"p O","E":4.5,"v":0.1},{"s":"p O","E":4.7,"v":0.08},{"s":"p O","E":4.9,"v":0.06},{"s":"p O","E":5.1,"v":0.04},{"s":"p O","E":5.22,"v":0},{"s":"p O","E":6.6,"v":0}]
},
"hconcat":[
{"vconcat":[
{"width":420,"height":210,"layer":[
{"data":{"name":"L0"},"mark":{"type":"line","color":"black","strokeWidth":1,"clip":true},"encoding":{
"x":{"field":"E","type":"quantitative","scale":{"domain":[-6,7],"nice":false,"zero":false},"axis":{"values":[-4,-2,0,2,4,6],"labels":false,"ticks":false,"domain":false,"grid":true,"title":null}},
"y":{"field":"v","type":"quantitative","scale":{"domain":[-19,219],"nice":false,"zero":false},"axis":{"values":[0,50,100,150,200],"labelExpr":"datum.value % 100 === 0 ? '' + datum.value : ''","title":null,"encode":{"ticks":{"update":{"x2":{"signal":"datum.value % 100 === 0 ? -10 : -6"}}}}}}}},
{"data":{"values":[{"E":-5.75,"v":198,"t":"a"}]},"mark":{"type":"text","align":"left","baseline":"middle","fontSize":20},"encoding":{"x":{"field":"E","type":"quantitative"},"y":{"field":"v","type":"quantitative"},"text":{"field":"t"}}},
{"data":{"name":"ann"},"transform":[{"filter":"datum.p === 0"}],"layer":[
{"mark":{"type":"rule","color":"black","strokeWidth":1.3},"encoding":{"x":{"field":"E1","type":"quantitative"},"x2":{"field":"E2"},"y":{"field":"y","type":"quantitative"}}},
{"mark":{"type":"point","shape":"M0,0L2,-0.45L2,0.45Z","size":256,"filled":true,"color":"black","opacity":1},"encoding":{"x":{"field":"E1","type":"quantitative"},"y":{"field":"y","type":"quantitative"}}},
{"mark":{"type":"point","shape":"M0,0L-2,-0.45L-2,0.45Z","size":256,"filled":true,"color":"black","opacity":1},"encoding":{"x":{"field":"E2","type":"quantitative"},"y":{"field":"y","type":"quantitative"}}},
{"mark":{"type":"text","text":"E","align":"left","baseline":"middle","fontSize":15},"encoding":{"x":{"field":"tE","type":"quantitative"},"y":{"field":"ty","type":"quantitative"}}},
{"mark":{"type":"text","text":"g","align":"left","baseline":"middle","fontSize":10,"dx":10,"dy":5},"encoding":{"x":{"field":"tE","type":"quantitative"},"y":{"field":"ty","type":"quantitative"}}},
{"mark":{"type":"text","align":"left","baseline":"middle","fontSize":15,"dx":16},"encoding":{"x":{"field":"tE","type":"quantitative"},"y":{"field":"ty","type":"quantitative"},"text":{"field":"eg"}}},
{"mark":{"type":"text","align":"left","baseline":"middle","fontSize":21},"encoding":{"x":{"field":"lE","type":"quantitative"},"y":{"field":"ly","type":"quantitative"},"text":{"field":"lab"}}}
]}
]},
{"width":420,"height":210,"layer":[
{"data":{"name":"L1"},"mark":{"type":"line","color":"black","strokeWidth":1,"clip":true},"encoding":{
"x":{"field":"E","type":"quantitative","scale":{"domain":[-6,7],"nice":false,"zero":false},"axis":{"values":[-4,-2,0,2,4,6],"labels":false,"ticks":false,"domain":false,"grid":true,"title":null}},
"y":{"field":"v","type":"quantitative","scale":{"domain":[-20,151],"nice":false,"zero":false},"axis":{"values":[0,50,100],"labelExpr":"datum.value % 100 === 0 ? '' + datum.value : ''","title":"DOS","encode":{"ticks":{"update":{"x2":{"signal":"datum.value % 100 === 0 ? -10 : -6"}}}}}}}},
{"data":{"name":"ann"},"transform":[{"filter":"datum.p === 1"}],"layer":[
{"mark":{"type":"rule","color":"black","strokeWidth":1.3},"encoding":{"x":{"field":"E1","type":"quantitative"},"x2":{"field":"E2"},"y":{"field":"y","type":"quantitative"}}},
{"mark":{"type":"point","shape":"M0,0L2,-0.45L2,0.45Z","size":256,"filled":true,"color":"black","opacity":1},"encoding":{"x":{"field":"E1","type":"quantitative"},"y":{"field":"y","type":"quantitative"}}},
{"mark":{"type":"point","shape":"M0,0L-2,-0.45L-2,0.45Z","size":256,"filled":true,"color":"black","opacity":1},"encoding":{"x":{"field":"E2","type":"quantitative"},"y":{"field":"y","type":"quantitative"}}},
{"mark":{"type":"text","text":"E","align":"left","baseline":"middle","fontSize":15},"encoding":{"x":{"field":"tE","type":"quantitative"},"y":{"field":"ty","type":"quantitative"}}},
{"mark":{"type":"text","text":"g","align":"left","baseline":"middle","fontSize":10,"dx":10,"dy":5},"encoding":{"x":{"field":"tE","type":"quantitative"},"y":{"field":"ty","type":"quantitative"}}},
{"mark":{"type":"text","align":"left","baseline":"middle","fontSize":15,"dx":16},"encoding":{"x":{"field":"tE","type":"quantitative"},"y":{"field":"ty","type":"quantitative"},"text":{"field":"eg"}}},
{"mark":{"type":"text","align":"left","baseline":"middle","fontSize":21},"encoding":{"x":{"field":"lE","type":"quantitative"},"y":{"field":"ly","type":"quantitative"},"text":{"field":"lab"}}}
]}
]},
{"width":420,"height":210,"layer":[
{"data":{"name":"L2"},"mark":{"type":"line","color":"black","strokeWidth":1,"clip":true},"encoding":{
"x":{"field":"E","type":"quantitative","scale":{"domain":[-6,7],"nice":false,"zero":false},"axis":{"values":[-6,-5,-4,-3,-2,-1,0,1,2,3,4,5,6],"grid":true,"title":"E, eV","labelExpr":"datum.value % 2 === 0 ? '' + datum.value : ''","encode":{"ticks":{"update":{"y2":{"signal":"datum.value % 2 === 0 ? 10 : 5"}}},"grid":{"update":{"opacity":{"signal":"datum.value % 2 === 0 && datum.value > -6 ? 1 : 0"}}}}}},
"y":{"field":"v","type":"quantitative","scale":{"domain":[-21,120],"nice":false,"zero":false},"axis":{"values":[0,50,100],"labelExpr":"datum.value % 100 === 0 ? '' + datum.value : ''","title":null,"encode":{"ticks":{"update":{"x2":{"signal":"datum.value % 100 === 0 ? -10 : -6"}}}}}}}},
{"data":{"name":"ann"},"transform":[{"filter":"datum.p === 2"}],"layer":[
{"mark":{"type":"rule","color":"black","strokeWidth":1.3},"encoding":{"x":{"field":"E1","type":"quantitative"},"x2":{"field":"E2"},"y":{"field":"y","type":"quantitative"}}},
{"mark":{"type":"point","shape":"M0,0L2,-0.45L2,0.45Z","size":256,"filled":true,"color":"black","opacity":1},"encoding":{"x":{"field":"E1","type":"quantitative"},"y":{"field":"y","type":"quantitative"}}},
{"mark":{"type":"point","shape":"M0,0L-2,-0.45L-2,0.45Z","size":256,"filled":true,"color":"black","opacity":1},"encoding":{"x":{"field":"E2","type":"quantitative"},"y":{"field":"y","type":"quantitative"}}},
{"mark":{"type":"text","text":"E","align":"left","baseline":"middle","fontSize":15},"encoding":{"x":{"field":"tE","type":"quantitative"},"y":{"field":"ty","type":"quantitative"}}},
{"mark":{"type":"text","text":"g","align":"left","baseline":"middle","fontSize":10,"dx":10,"dy":5},"encoding":{"x":{"field":"tE","type":"quantitative"},"y":{"field":"ty","type":"quantitative"}}},
{"mark":{"type":"text","align":"left","baseline":"middle","fontSize":15,"dx":16},"encoding":{"x":{"field":"tE","type":"quantitative"},"y":{"field":"ty","type":"quantitative"},"text":{"field":"eg"}}},
{"mark":{"type":"text","align":"left","baseline":"middle","fontSize":21},"encoding":{"x":{"field":"lE","type":"quantitative"},"y":{"field":"ly","type":"quantitative"},"text":{"field":"lab"}}}
]}
]}
],"spacing":-2},
{"vconcat":[
{"width":408,"height":210,"layer":[
{"data":{"name":"R0"},"mark":{"type":"line","color":"black","strokeWidth":1,"clip":true},"encoding":{
"x":{"field":"E","type":"quantitative","scale":{"domain":[-6,6.6],"nice":false,"zero":false},"axis":{"values":[-4,-2,0,2,4,6],"labels":false,"ticks":false,"domain":false,"grid":true,"title":null}},
"y":{"field":"v","type":"quantitative","scale":{"domain":[-0.38,3.21],"nice":false,"zero":false},"axis":{"values":[0,1,2,3],"labelExpr":"datum.value % 2 === 0 ? '' + datum.value : ''","title":null,"encode":{"ticks":{"update":{"x2":{"signal":"datum.value % 2 === 0 ? -10 : -6"}}}}}},
"strokeDash":{"field":"s","type":"nominal","scale":{"domain":["d Mo","p O"],"range":[[1,0],[4,3]]},"legend":{"title":null,"orient":"none","legendX":182,"legendY":26}}}},
{"data":{"values":[{"E":-5.72,"v":2.87,"t":"б"}]},"mark":{"type":"text","align":"left","baseline":"middle","fontSize":20},"encoding":{"x":{"field":"E","type":"quantitative"},"y":{"field":"v","type":"quantitative"},"text":{"field":"t"}}}
]},
{"width":408,"height":210,"layer":[
{"data":{"name":"R1"},"transform":[{"filter":"datum.s === 'p O'"}],"mark":{"type":"line","color":"black","strokeWidth":1,"strokeDash":[4,3],"clip":true},"encoding":{
"x":{"field":"E","type":"quantitative","scale":{"domain":[-6,6.6],"nice":false,"zero":false},"axis":{"values":[-4,-2,0,2,4,6],"labels":false,"ticks":false,"domain":false,"grid":true,"title":null}},
"y":{"field":"v","type":"quantitative","scale":{"domain":[-0.46,3.55],"nice":false,"zero":false},"axis":{"values":[0,1,2,3],"labelExpr":"datum.value % 2 === 0 ? '' + datum.value : ''","title":null,"encode":{"ticks":{"update":{"x2":{"signal":"datum.value % 2 === 0 ? -10 : -6"}}}}}}}},
{"data":{"name":"R1"},"transform":[{"filter":"datum.s === 'd Mo'"}],"mark":{"type":"line","strokeWidth":1,"clip":true},"encoding":{
"x":{"field":"E","type":"quantitative"},"y":{"field":"v","type":"quantitative"},
"color":{"field":"s","type":"nominal","scale":{"domain":["p Bi","d Mo"],"range":["#e00000","black"]},"legend":{"title":null,"orient":"none","legendX":27,"legendY":23}}}},
{"data":{"name":"R1"},"transform":[{"filter":"datum.s === 'p Bi'"}],"mark":{"type":"line","strokeWidth":1.4,"clip":true},"encoding":{
"x":{"field":"E","type":"quantitative"},"y":{"field":"v","type":"quantitative"},
"color":{"field":"s","type":"nominal","scale":{"domain":["p Bi","d Mo"],"range":["#e00000","black"]},"legend":{"title":null,"orient":"none","legendX":27,"legendY":23}}}}
]},
{"width":408,"height":210,"layer":[
{"data":{"name":"R2"},"transform":[{"filter":"datum.s === 'p O'"}],"mark":{"type":"line","color":"black","strokeWidth":1,"strokeDash":[4,3],"clip":true},"encoding":{
"x":{"field":"E","type":"quantitative","scale":{"domain":[-6,6.6],"nice":false,"zero":false},"axis":{"values":[-6,-5,-4,-3,-2,-1,0,1,2,3,4,5,6],"grid":true,"title":"E, eV","titleX":211,"labelExpr":"datum.value % 2 === 0 ? '' + datum.value : ''","encode":{"ticks":{"update":{"y2":{"signal":"datum.value % 2 === 0 ? 10 : 5"}}},"grid":{"update":{"opacity":{"signal":"datum.value % 2 === 0 && datum.value > -6 ? 1 : 0"}}}}}},
"y":{"field":"v","type":"quantitative","scale":{"domain":[-0.47,3.63],"nice":false,"zero":false},"axis":{"values":[0,1,2,3],"labelExpr":"datum.value % 2 === 0 ? '' + datum.value : ''","title":null,"encode":{"ticks":{"update":{"x2":{"signal":"datum.value % 2 === 0 ? -10 : -6"}}}}}}}},
{"data":{"name":"R2"},"transform":[{"filter":"datum.s === 'd Mo'"}],"mark":{"type":"line","strokeWidth":1,"clip":true},"encoding":{
"x":{"field":"E","type":"quantitative"},"y":{"field":"v","type":"quantitative"},
"color":{"field":"s","type":"nominal","scale":{"domain":["p Bi","d Mo"],"range":["#e00000","black"]},"legend":{"title":null,"orient":"none","legendX":23,"legendY":25}}}},
{"data":{"name":"R2"},"transform":[{"filter":"datum.s === 'p Bi'"}],"mark":{"type":"line","strokeWidth":1.4,"clip":true},"encoding":{
"x":{"field":"E","type":"quantitative"},"y":{"field":"v","type":"quantitative"},
"color":{"field":"s","type":"nominal","scale":{"domain":["p Bi","d Mo"],"range":["#e00000","black"]},"legend":{"title":null,"orient":"none","legendX":23,"legendY":25}}}}
]}
],"spacing":-2,"resolve":{"scale":{"color":"independent","strokeDash":"independent"},"legend":{"color":"independent","strokeDash":"independent"}}}
],
"spacing":33,
"resolve":{"scale":{"color":"independent","strokeDash":"independent"},"legend":{"color":"independent","strokeDash":"independent"}},
"config":{
"font":"Liberation Sans",
"view":{"stroke":"black","strokeWidth":2},
"axis":{"domainColor":"black","domainWidth":2,"tickColor":"black","tickWidth":1.5,"tickSize":10,"labelFont":"Liberation Sans","labelFontSize":20,"labelColor":"#111","labelFlush":false,"labelOverlap":false,"titleFont":"Liberation Sans","titleFontSize":20,"titleFontWeight":"normal","titleColor":"#111","gridColor":"#c8c8c8","gridWidth":1},
"axisX":{"labelPadding":5,"titlePadding":23},
"axisY":{"labelPadding":6,"titlePadding":7,"grid":false},
"legend":{"strokeColor":"black","strokeWidth":1.5,"padding":3,"rowPadding":7,"labelFontSize":23,"labelFont":"Liberation Sans","labelColor":"black","symbolType":"M-3,0H3","symbolSize":324,"symbolStrokeWidth":1.3,"symbolOffset":11,"labelOffset":21},
"text":{"font":"Liberation Sans","color":"#111"}
}
}
